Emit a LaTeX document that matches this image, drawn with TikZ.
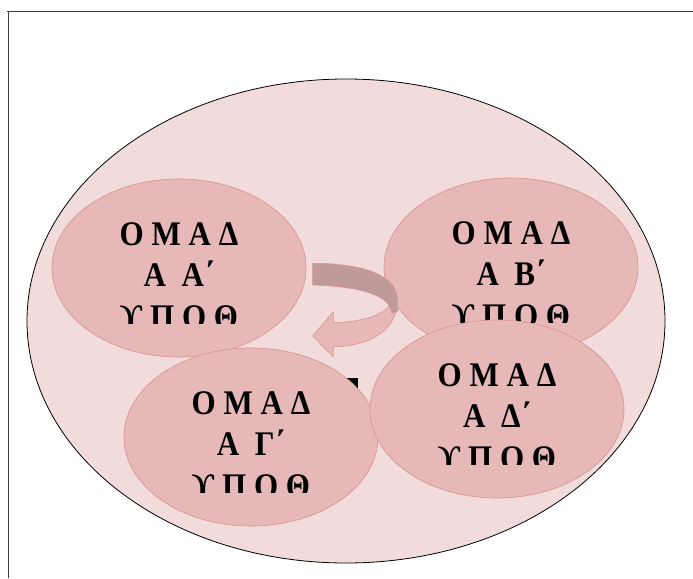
\documentclass[tikz,border=0pt]{standalone}
\usepackage{fontspec}
\setmainfont{Liberation Serif}
\newfontfamily\groupfont[FakeStretch=0.9]{Liberation Serif}
\usetikzlibrary{shapes.geometric}
\definecolor{outerfill}{HTML}{F2DCDB}
\definecolor{groupfill}{HTML}{E6B9B8}
\definecolor{groupline}{HTML}{D99694}
\definecolor{bandtop}{HTML}{C09A9A}
\definecolor{framegray}{HTML}{404040}
% three text lines of one group, the last one cut off at the bottom
\newcommand\grouplabel[2]{%
  \begin{scope}
    \clip ([shift={(-130pt,95pt)}]#1.center) rectangle ([shift={(130pt,-55pt)}]#1.center);
    \node[grouptext] (#1-l1) at ([yshift=23pt]#1.center) {Ο Μ Α Δ};
    \node[grouptext] (#1-l2) at ([yshift=-18pt]#1.center) {Α\hspace{0.45em}#2΄};
    \node[grouptext] (#1-l3) at ([yshift=-60pt]#1.center) {ϒ Π Ο Θ};
  \end{scope}}
\begin{document}
\begin{tikzpicture}[x=1pt,y=-1pt,
  outershape/.style={ellipse, fill=outerfill, draw=black, line width=0.8pt,
    minimum width=638pt, minimum height=484pt, inner sep=0pt},
  grpshape/.style={ellipse, fill=groupfill, draw=groupline, line width=0.7pt,
    minimum width=254pt, minimum height=178pt, inner sep=0pt},
  grouptext/.style={anchor=base, inner sep=0pt,
    font=\groupfont\fontsize{34.5}{40}\selectfont\bfseries},
  bandlight/.style={fill=groupfill, draw=groupline, line width=0.6pt},
  banddark/.style={fill=bandtop, draw=groupline, line width=0.6pt},
]
\useasboundingbox (0,0) rectangle (693,578);
% page frame
\draw[framegray, line width=0.9pt] (7,11) -- (693,11);
\draw[framegray, line width=0.9pt] (8,11) -- (8,578);

% outer ellipse
\node[outershape] (outer) at (346,321) {};

% first two groups
\node[grpshape] (ga) at (179,268) {};
\grouplabel{ga}{Α}
\node[grpshape] (gb) at (511,267) {};
\grouplabel{gb}{Β}

% curved arrow: lower face with the head, then the upper face of the band
\path[bandlight] (397.5,300) .. controls (397.5,330) and (370,346.5) .. (333.3,346.7)
  -- (333.3,356.7) -- (312.7,336) -- (333.3,311.7) -- (333.3,322.7)
  .. controls (365,322) and (390,313) .. (391.5,300) -- cycle;
\path[banddark] (312.7,263.3) .. controls (370,263.5) and (397.5,278) .. (397.5,300)
  -- (397.5,311.7) -- (391.7,313.3)
  .. controls (391,296) and (362,286.5) .. (312.7,285) -- cycle;

% piece of a dark glyph showing between the lower groups
\fill[black] (346,378) rectangle (358,396);

% last two groups
\node[grpshape] (gc) at (251,437) {};
\grouplabel{gc}{Γ}
\node[grpshape] (gd) at (497,409) {};
\grouplabel{gd}{Δ}
\end{tikzpicture}
\end{document}
